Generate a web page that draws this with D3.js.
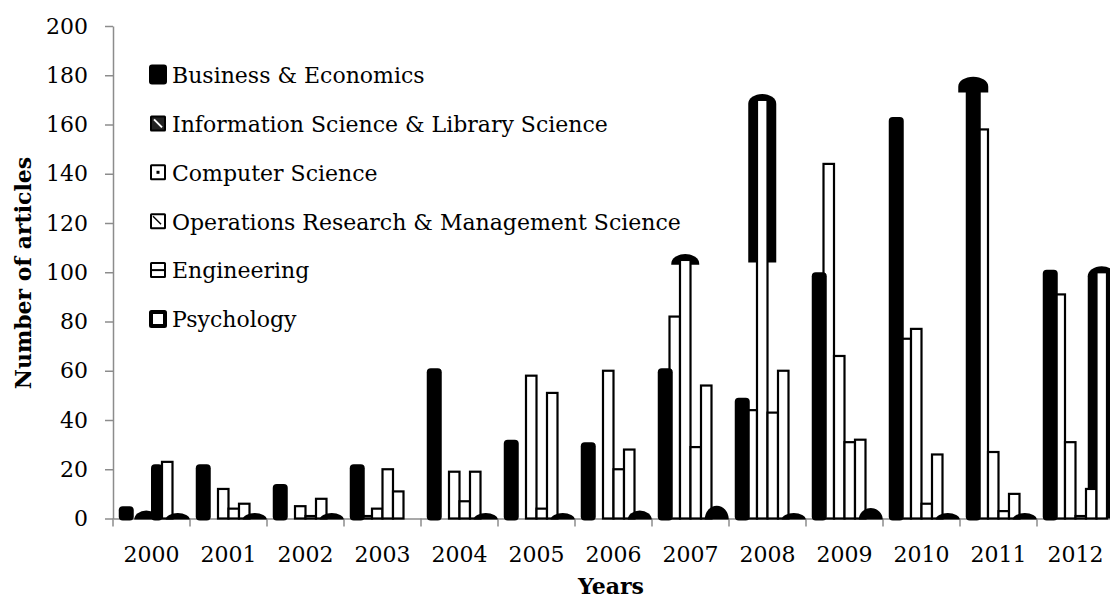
<!DOCTYPE html>
<html>
<head>
<meta charset="utf-8">
<script src="https://cdn.jsdelivr.net/npm/d3@7"></script>
<style>
    body { margin: 0; background: #fff; }
    svg { display: block; font-family: "DejaVu Serif", serif; }
</style>
</head>
<body>
<svg id="chart"></svg>
<script>
const years = ["2000", "2001", "2002", "2003", "2004", "2005", "2006", "2007", "2008", "2009", "2010", "2011", "2012"]
const series = [
    "Business & Economics",
    "Information Science & Library Science",
    "Computer Science",
    "Operations Research & Management Science",
    "Engineering",
    "Psychology"
]
const business = [5, 22, 14, 22, 61, 32, 31, 61, 49, 100, 163, 177, 101]
const infoScience = [0, 0, 0, 1, 0, 0, 0, 82, 44, 144, 73, 158, 91]
const computerScience = [2, 12, 5, 4, 19, 58, 60, 105, 170, 66, 77, 27, 31]
const opsResearch = [22, 4, 1, 20, 7, 4, 20, 29, 43, 31, 6, 3, 1]
const engineering = [23, 6, 8, 11, 19, 51, 28, 54, 60, 32, 26, 10, 12]
const psychology = [1, 1, 1, 0, 1, 1, 2, 4, 1, 3, 1, 1, 100]
const yTicks = [0, 20, 40, 60, 80, 100, 120, 140, 160, 180, 200]

const values = [business, infoScience, computerScience, opsResearch, engineering, psychology]

// the exported chart drew a few bars oddly, keep them that way
const oddShapes = [
    { year: "2000", series: 2, kind: "dome" },
    { year: "2000", series: 3, kind: "solid" },
    { year: "2007", series: 2, kind: "cap", down: 2 },
    { year: "2008", series: 2, kind: "cap", down: 66 },
    { year: "2011", series: 0, kind: "cap", down: 4 },
    { year: "2012", series: 5, kind: "cap", down: 100 }
]

const width = 1110, height = 601

const x0 = d3.scaleBand()
    .domain(years)
    .range([113, 1114])

const x1 = d3.scaleBand()
    .domain(series)
    .range([0, x0.bandwidth()])
    .paddingOuter(0.667)

const y = d3.scaleLinear()
    .domain([0, 200])
    .range([518.5, 26])

const y0 = y(0)
const bw = x1.bandwidth()

const cells = years.flatMap((yr, i) => series.map((s, j) => {
    const odd = oddShapes.find(o => o.year === yr && o.series === j)
    const kind = odd ? odd.kind : (j === 0 ? "solid" : j === 5 ? "dome" : "box")
    return { year: yr, key: s, j, value: values[j][i], kind, down: odd ? odd.down : 0 }
}))

const cx = d => x0(d.year) + x1(d.key) + bw / 2 + (d.j === 0 ? 1 : 0)

function capPath(c, w, top, bottom, ry) {
    return `M${c - w / 2},${bottom}V${top + ry}A${w / 2},${ry} 0 0 1 ${c + w / 2},${top + ry}V${bottom}Z`
}

function domePath(c, rx, base, ry) {
    return `M${c - rx},${base}A${rx},${ry} 0 0 1 ${c + rx},${base}Z`
}

const svg = d3.select("#chart")
    .attr("width", width)
    .attr("height", height)
    .attr("viewBox", [0, 0, width, height])

// axes
const yAxis = g => g
    .attr("transform", `translate(113,0)`)
    .call(d3.axisLeft(y).tickValues(yTicks).tickSize(8).tickSizeOuter(0).tickPadding(17))
    .call(g => g.selectAll("path, line").attr("stroke", "#8c8c8c").attr("stroke-width", 1.5))
    .call(g => g.selectAll("text").attr("font-size", 22).attr("font-family", "DejaVu Serif").attr("fill", "#000"))

const xAxis = g => g
    .attr("transform", `translate(0,${y0})`)
    .call(d3.axisBottom(x0).tickSize(0).tickPadding(28))
    .call(g => g.select(".domain").attr("stroke", "#8c8c8c").attr("stroke-width", 1.5))
    .call(g => g.selectAll("text").attr("font-size", 22).attr("font-family", "DejaVu Serif").attr("fill", "#000"))
    .call(g => g.selectAll(".bound")
        .data(years.map(yr => x0(yr)).concat([x0.range()[1]]))
        .join("line")
        .attr("class", "bound")
        .attr("x1", d => d).attr("x2", d => d)
        .attr("y1", 0).attr("y2", 8)
        .attr("stroke", "#8c8c8c").attr("stroke-width", 1.5))

svg.append("g").call(xAxis)
svg.append("g").call(yAxis)

const bars = svg.append("g")

// black sleeves and caps sit behind their bar
bars.append("g")
    .selectAll("path")
    .data(cells.filter(d => d.kind === "cap"))
    .join("path")
    .attr("d", d => capPath(cx(d), d.j === 0 ? 30 : 28, y(d.value) - 6, y(d.value - d.down), 10))
    .attr("fill", "#000")

// outlined bars
bars.append("g")
    .selectAll("rect")
    .data(cells.filter(d => d.value > 0 && (d.kind === "box" || (d.kind === "cap" && d.j > 0))))
    .join("rect")
    .attr("x", d => x0(d.year) + x1(d.key))
    .attr("y", d => y(d.value))
    .attr("width", bw)
    .attr("height", d => y0 - y(d.value))
    .attr("fill", "#fff")
    .attr("stroke", "#000")
    .attr("stroke-width", 2.2)

// solid rounded bars
bars.append("g")
    .selectAll("rect")
    .data(cells.filter(d => d.value > 0 && (d.kind === "solid" || (d.kind === "cap" && d.j === 0))))
    .join("rect")
    .attr("x", d => cx(d) - (d.j === 0 ? 7.5 : bw / 2 + 0.5))
    .attr("y", d => y(d.value))
    .attr("width", d => d.j === 0 ? 15 : bw + 1)
    .attr("height", d => y0 - y(d.value) + 2)
    .attr("rx", 4)
    .attr("fill", "#000")

// low domes
bars.append("g")
    .selectAll("path")
    .data(cells.filter(d => d.value > 0 && d.kind === "dome"))
    .join("path")
    .attr("d", d => domePath(cx(d), 12, y0 + 1, y0 - y(d.value) + 4))
    .attr("fill", "#000")

// legend
const legend = svg.append("g")
    .selectAll("g")
    .data(series)
    .join("g")
    .attr("transform", (d, i) => `translate(150,${74.5 + i * 48.9})`)

legend.append("rect")
    .attr("x", (d, i) => i === 0 ? 0 : 1)
    .attr("y", (d, i) => i === 0 ? -9 : -7)
    .attr("width", (d, i) => i === 0 ? 16 : 14)
    .attr("height", (d, i) => i === 0 ? 18 : 14)
    .attr("rx", (d, i) => i === 0 ? 2 : 0.5)
    .attr("fill", (d, i) => i === 0 ? "#000" : i === 1 ? "#222" : "#fff")
    .attr("stroke", "#000")
    .attr("stroke-width", (d, i) => i === 5 ? 4 : 2)

legend.filter((d, i) => i === 1).append("line")
    .attr("x1", 4).attr("y1", -4).attr("x2", 12).attr("y2", 4)
    .attr("stroke", "#fff").attr("stroke-width", 2)
legend.filter((d, i) => i === 2).append("rect")
    .attr("x", 6.5).attr("y", -1.5).attr("width", 3).attr("height", 3).attr("fill", "#000")
legend.filter((d, i) => i === 3).append("line")
    .attr("x1", 3).attr("y1", -5).attr("x2", 11).attr("y2", 3)
    .attr("stroke", "#000").attr("stroke-width", 1.5)
legend.filter((d, i) => i === 4).append("line")
    .attr("x1", 1).attr("y1", 0).attr("x2", 15).attr("y2", 0)
    .attr("stroke", "#000").attr("stroke-width", 2)

legend.append("text")
    .attr("x", 22)
    .attr("dy", "0.38em")
    .attr("font-size", 22)
    .attr("fill", "#000")
    .text(d => d)

// axis titles
svg.append("text")
    .attr("x", 611)
    .attr("y", 594)
    .attr("text-anchor", "middle")
    .attr("font-size", 22)
    .attr("font-weight", "bold")
    .text("Years")

svg.append("text")
    .attr("transform", "translate(31,273) rotate(-90)")
    .attr("text-anchor", "middle")
    .attr("font-size", 22)
    .attr("font-weight", "bold")
    .text("Number of articles")
</script>
</body>
</html>
